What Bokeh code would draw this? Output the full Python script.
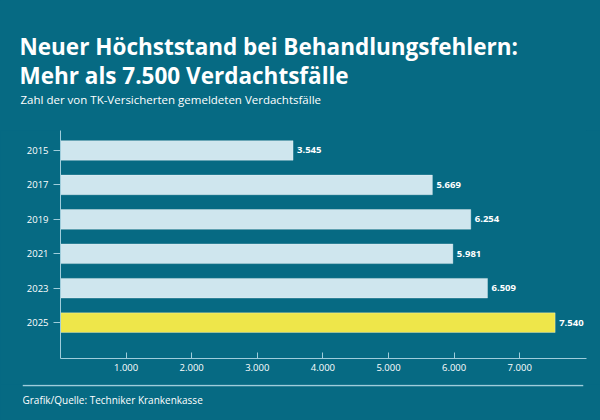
from bokeh.plotting import figure
from bokeh.layouts import column, row
from bokeh.models import Range1d, FixedTicker, Label, ColumnDataSource, LabelSet, Span
from bokeh.core.properties import value
from bokeh.embed import file_html
from bokeh.resources import INLINE

years = ["2015", "2017", "2019", "2021", "2023", "2025"]
values = [3545, 5669, 6254, 5981, 6509, 7540]
value_labels = ["3.545", "5.669", "6.254", "5.981", "6.509", "7.540"]
x_ticks = [1000, 2000, 3000, 4000, 5000, 6000, 7000]
x_tick_labels = ["1.000", "2.000", "3.000", "4.000", "5.000", "6.000", "7.000"]
title1 = "Neuer Höchststand bei Behandlungsfehlern:"
title2 = "Mehr als 7.500 Verdachtsfälle"
subtitle = "Zahl der von TK-Versicherten gemeldeten Verdachtsfälle"
source_text = "Grafik/Quelle: Techniker Krankenkasse"

BG = "#066a83"
LIGHT = "#cfe6ee"
YELLOW = "#eee64a"
AXIS = "#9fcddb"
FONT = "Open Sans"

W = 600
HEAD_H, FOOT_H = 130, 36
MAIN_H = 420 - HEAD_H - FOOT_H
BGSTYLE = {"background-color": BG}


def blank(height, left=0, right=0):
    f = figure(width=W, height=height, output_backend="svg", toolbar_location=None,
               x_axis_location=None, y_axis_location=None,
               x_range=Range1d(0, W - left - right), y_range=Range1d(height, 0),
               min_border_left=left, min_border_right=right, min_border_top=0, min_border_bottom=0,
               styles=BGSTYLE)
    f.grid.visible = False
    f.outline_line_color = None
    f.background_fill_color = BG
    f.border_fill_color = BG
    return f


def lab(text, x, y, size, bold=False):
    return Label(x=x, y=y, text=text, text_color="white", text_font=FONT,
                 text_font_size=size, text_font_style="bold" if bold else "normal",
                 text_baseline="middle")


# header
head = blank(HEAD_H)
head.add_layout(lab(title1, 19, 46, "22.5px", True))
head.add_layout(lab(title2, 19, 75, "22.5px", True))
head.add_layout(lab(subtitle, 20, 99, "11.5px"))

# main chart
n = len(years)
ypos = [n - 1 - i for i in range(n)]
colors = [LIGHT] * (n - 1) + [YELLOW]
src = ColumnDataSource(dict(y=ypos, v=values, lab=value_labels, c=colors))

p = figure(width=W, height=MAIN_H, output_backend="svg", toolbar_location=None,
           x_range=Range1d(0, 8018), y_range=Range1d(-1.04, n - 1 + 0.58),
           min_border_left=60, min_border_right=14, min_border_top=0, min_border_bottom=MAIN_H - 228,
           styles=BGSTYLE)
p.background_fill_color = BG
p.border_fill_color = BG
p.outline_line_color = None
p.grid.visible = False

p.hbar(y="y", right="v", left=0, height=0.57, color="c", source=src,
       line_color="white", line_alpha=0.3, line_width=1)

p.add_layout(LabelSet(x="v", y="y", text="lab", source=src, x_offset=4,
                      text_baseline="middle", text_color="white", text_font_size="9.5px",
                      text_font_style="bold", text_font=value(FONT)))

xa = p.xaxis[0]
xa.ticker = FixedTicker(ticks=x_ticks)
xa.major_label_overrides = {t: l for t, l in zip(x_ticks, x_tick_labels)}
xa.major_tick_in = 6
xa.major_tick_out = 0
xa.minor_tick_line_color = None
xa.axis_line_color = AXIS
xa.major_tick_line_color = AXIS
xa.major_label_text_color = "white"
xa.major_label_text_font = FONT
xa.major_label_text_font_size = "9.5px"
xa.major_label_standoff = 5

ya = p.yaxis[0]
ya.ticker = FixedTicker(ticks=ypos)
ya.major_label_overrides = {yy: yr for yy, yr in zip(ypos, years)}
ya.major_tick_in = 0
ya.major_tick_out = 7
ya.minor_tick_line_color = None
ya.axis_line_color = AXIS
ya.major_tick_line_color = AXIS
ya.major_label_text_color = "white"
ya.major_label_text_font = FONT
ya.major_label_text_font_size = "9.5px"
ya.major_label_standoff = 5

# footer
foot = blank(FOOT_H, left=22, right=17)
foot.add_layout(Span(location=1, dimension="width", line_color=AXIS, line_width=1.5))
foot.add_layout(lab(source_text, 0, 15, "10px"))

layout = column(row(head, styles=BGSTYLE), p, row(foot, styles=BGSTYLE), spacing=0, styles=BGSTYLE)
open("out.html", "w").write(file_html(layout, INLINE))
